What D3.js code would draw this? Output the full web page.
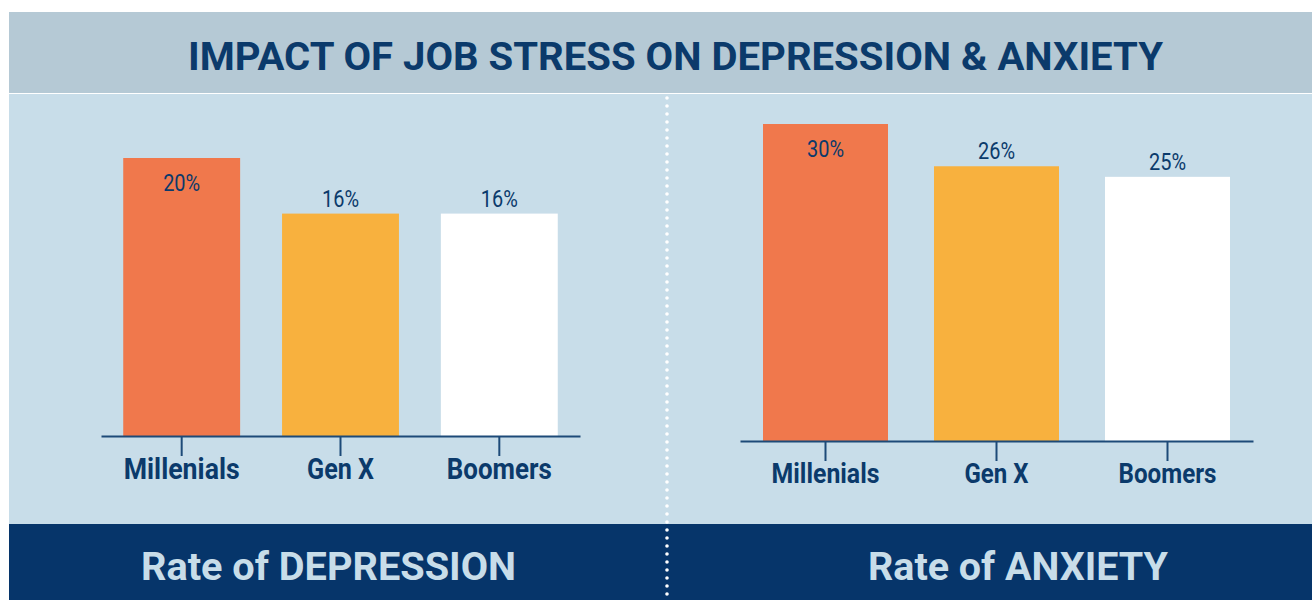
<!DOCTYPE html>
<html>
<head>
<meta charset="utf-8">
<script src="https://cdn.jsdelivr.net/npm/d3@7"></script>
<style>
  body { margin: 0; background: #ffffff; }
  svg { display: block; font-family: Roboto, "Noto Sans", sans-serif; }
</style>
</head>
<body>
<div id="chart"></div>
<script>
// chart data
const generations = ['Millenials', 'Gen X', 'Boomers'];
const depressionRates = [20, 16, 16];
const anxietyRates = [30, 26, 25];
const barColors = ['#f0784c', '#f8b13e', '#ffffff'];
const mainTitle = 'IMPACT OF JOB STRESS ON DEPRESSION & ANXIETY';
const panelTitles = ['Rate of DEPRESSION', 'Rate of ANXIETY'];

const W = 1312, H = 600;
const navy = '#0b3a6b';

const svg = d3.select('#chart').append('svg')
    .attr('width', W)
    .attr('height', H);

// backgrounds
svg.append('rect').attr('x', 9).attr('y', 12).attr('width', W - 9).attr('height', 81).attr('fill', '#b5c9d5');
svg.append('rect').attr('x', 9).attr('y', 93).attr('width', W - 9).attr('height', 1).attr('fill', '#ffffff');
svg.append('rect').attr('x', 9).attr('y', 94).attr('width', W - 9).attr('height', 430).attr('fill', '#c8dde9');
svg.append('rect').attr('x', 9).attr('y', 524).attr('width', W - 9).attr('height', H - 524).attr('fill', '#06356a');

svg.append('text')
    .attr('x', 675.5)
    .attr('y', 70)
    .attr('text-anchor', 'middle')
    .attr('textLength', 975)
    .attr('lengthAdjust', 'spacingAndGlyphs')
    .style('font-size', '39px')
    .style('font-weight', 'bold')
    .style('fill', navy)
    .text(mainTitle);

// dotted divider
svg.append('line')
    .attr('x1', 667).attr('x2', 667)
    .attr('y1', 98).attr('y2', H)
    .attr('stroke', '#ffffff')
    .attr('stroke-width', 3.6)
    .attr('stroke-linecap', 'round')
    .attr('stroke-dasharray', '0 8');

const panels = [
    {
        values: depressionRates, max: 20, xRange: [101, 580], yRange: [436, 158],
        inner: 0.264, outer: 0.14, labelFont: 30, labelWidths: [116, 67, 105],
        title: panelTitles[0], titleX: 328.5, titleWidth: 375
    },
    {
        values: anxietyRates, max: 30, xRange: [740, 1253], yRange: [441, 124],
        inner: 0.269, outer: 0.1345, labelFont: 28, labelWidths: [108, 64, 98],
        title: panelTitles[1], titleX: 1018, titleWidth: 300
    }
];

panels.forEach(p => {
    const xScale = d3.scaleBand()
        .domain(generations)
        .range(p.xRange)
        .paddingInner(p.inner)
        .paddingOuter(p.outer);

    const yScale = d3.scaleLinear()
        .domain([0, p.max])
        .range(p.yRange);

    const data = generations.map((g, i) => ({ gen: g, value: p.values[i], color: barColors[i] }));
    const top = d3.max(p.values);

    const g = svg.append('g');

    g.selectAll('.bar')
        .data(data)
        .join('rect')
        .attr('class', 'bar')
        .attr('x', d => xScale(d.gen))
        .attr('y', d => yScale(d.value))
        .attr('width', xScale.bandwidth())
        .attr('height', d => yScale(0) - yScale(d.value))
        .attr('fill', d => d.color);

    g.selectAll('.value-label')
        .data(data)
        .join('text')
        .attr('class', 'value-label')
        .attr('x', d => xScale(d.gen) + xScale.bandwidth() / 2)
        .attr('y', d => d.value === top ? yScale(d.value) + 33 : yScale(d.value) - 7)
        .attr('text-anchor', 'middle')
        .attr('textLength', 37)
        .attr('lengthAdjust', 'spacingAndGlyphs')
        .style('font-size', '24px')
        .style('fill', navy)
        .text(d => d.value + '%');

    const xAxis = d3.axisBottom(xScale)
        .tickSize(20)
        .tickSizeOuter(0)
        .tickPadding(2);

    const axisG = g.append('g')
        .attr('transform', `translate(0,${yScale(0)})`)
        .call(xAxis);

    axisG.select('.domain').attr('stroke', '#1d4a78').attr('stroke-width', 2);
    axisG.selectAll('.tick line').attr('stroke', '#1d4a78').attr('stroke-width', 2);
    axisG.selectAll('.tick text')
        .attr('fill', navy)
        .style('font-family', 'Roboto, sans-serif')
        .style('font-size', p.labelFont + 'px')
        .style('font-weight', 'bold')
        .attr('textLength', (d, i) => p.labelWidths[i])
        .attr('lengthAdjust', 'spacingAndGlyphs');

    svg.append('text')
        .attr('x', p.titleX)
        .attr('y', 580)
        .attr('text-anchor', 'middle')
        .attr('textLength', p.titleWidth)
        .attr('lengthAdjust', 'spacingAndGlyphs')
        .style('font-size', '39px')
        .style('font-weight', 'bold')
        .style('fill', '#c8dde9')
        .text(p.title);
});
</script>
</body>
</html>
